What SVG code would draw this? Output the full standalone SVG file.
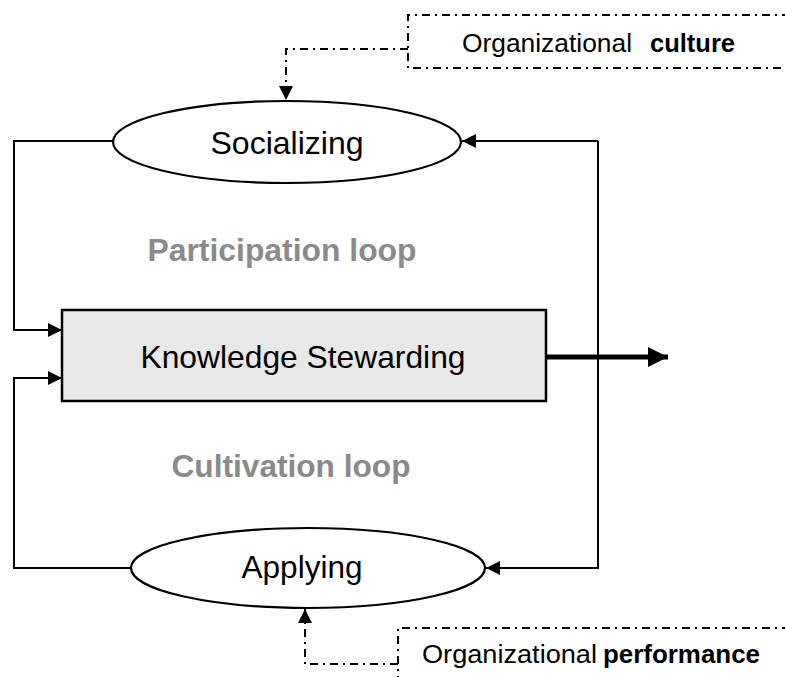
<svg xmlns="http://www.w3.org/2000/svg" width="785" height="677" viewBox="0 0 785 677">
  <style>
    .line { fill: none; stroke: #000; stroke-width: 2; }
    .dashdot { fill: none; stroke: #000; stroke-width: 2; stroke-dasharray: 8 5 2 5; }
    .node { fill: #fff; stroke: #000; stroke-width: 2.2; }
    .label { font-family: "Liberation Sans", Arial, sans-serif; fill: #000; }
    .loop { font-family: "Liberation Sans", Arial, sans-serif; font-weight: bold; fill: #8a8a8a; font-size: 32px; }
  </style>
  <defs>
    <marker id="arrow" viewBox="0 0 10 10" refX="10" refY="5" markerWidth="7" markerHeight="7" markerUnits="strokeWidth" orient="auto">
      <path d="M0,0 L10,5 L0,10 z" fill="#000"/>
    </marker>
    <marker id="arrowThick" viewBox="0 0 10 10" refX="10" refY="5" markerWidth="4" markerHeight="4.4" markerUnits="strokeWidth" orient="auto">
      <path d="M0,0 L10,5 L0,10 z" fill="#000"/>
    </marker>
  </defs>

  <rect width="785" height="677" fill="#fff"/>

  <!-- connectors -->
  <g id="connectors">
    <path class="line" d="M113,141 H14 V330 H62" marker-end="url(#arrow)"/>
    <path class="line" d="M598,141 H462" marker-end="url(#arrow)"/>
    <path class="line" d="M598,141 V568 H486" marker-end="url(#arrow)"/>
    <path class="line" d="M131,568 H14 V378 H62" marker-end="url(#arrow)"/>
    <path fill="none" stroke="#000" stroke-width="5" d="M546,357 H668" marker-end="url(#arrowThick)"/>
    <path class="dashdot" d="M408,49 H286 V100" marker-end="url(#arrow)"/>
    <path class="dashdot" d="M398,664 H305 V609" marker-end="url(#arrow)"/>
  </g>

  <!-- loop labels -->
  <text class="loop" x="282" y="261" text-anchor="middle" textLength="269" lengthAdjust="spacingAndGlyphs">Participation loop</text>
  <text class="loop" x="291" y="477" text-anchor="middle" textLength="239" lengthAdjust="spacingAndGlyphs">Cultivation loop</text>

  <g id="culture">
    <path class="dashdot" d="M790,15 H408 V68 H790"/>
    <text class="label" x="462" y="52" font-size="25" textLength="170" lengthAdjust="spacingAndGlyphs">Organizational</text>
    <text class="label" x="650" y="52" font-size="25" font-weight="bold" textLength="85" lengthAdjust="spacingAndGlyphs">culture</text>
  </g>

  <g id="socializing">
    <ellipse class="node" cx="287" cy="142" rx="174" ry="41"/>
    <text class="label" x="287" y="154" font-size="32" text-anchor="middle" textLength="153" lengthAdjust="spacingAndGlyphs">Socializing</text>
  </g>

  <g id="stewarding">
    <rect x="62" y="310" width="484" height="91" fill="#e8e8e8" stroke="#000" stroke-width="2.5"/>
    <text class="label" x="303" y="368" font-size="32" text-anchor="middle" textLength="325" lengthAdjust="spacingAndGlyphs">Knowledge Stewarding</text>
  </g>

  <g id="applying">
    <ellipse class="node" cx="308" cy="568" rx="177" ry="40"/>
    <text class="label" x="302" y="578" font-size="32" text-anchor="middle" textLength="121" lengthAdjust="spacingAndGlyphs">Applying</text>
  </g>

  <g id="performance">
    <path class="dashdot" d="M790,628 H398 V680"/>
    <text class="label" x="422" y="663" font-size="25" textLength="175" lengthAdjust="spacingAndGlyphs">Organizational</text>
    <text class="label" x="603" y="663" font-size="25" font-weight="bold" textLength="157" lengthAdjust="spacingAndGlyphs">performance</text>
  </g>
</svg>
